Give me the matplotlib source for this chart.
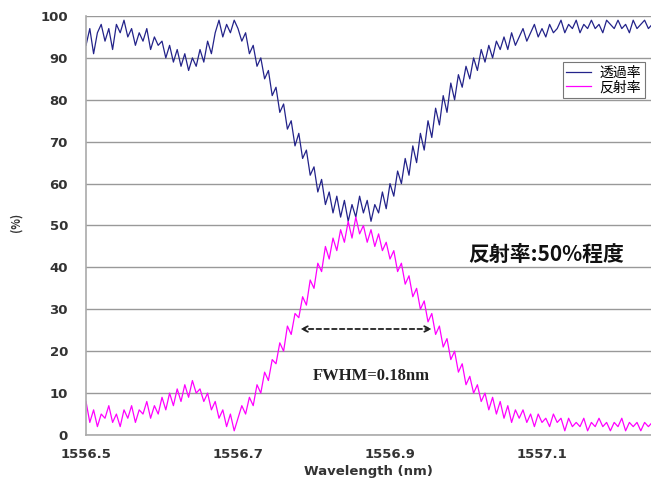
import numpy as np
import matplotlib
matplotlib.use("Agg")
import matplotlib.pyplot as plt

# ---- data ----
wl_start = 1556.5
wl_step = 0.005
transmission = [
    93, 97, 91, 96, 98, 94, 97, 92, 98, 96,
    99, 95, 97, 93, 96, 94, 97, 92, 95, 93,
    94, 90, 93, 89, 92, 88, 91, 87, 90, 88,
    92, 89, 94, 91, 96, 99, 95, 98, 96, 99,
    97, 94, 96, 91, 93, 88, 90, 85, 87, 81,
    83, 77, 79, 73, 75, 69, 72, 66, 68, 62,
    64, 58, 61, 55, 58, 53, 57, 52, 56, 51,
    55, 52, 57, 53, 56, 51, 55, 53, 58, 54,
    60, 57, 63, 60, 66, 62, 69, 65, 72, 68,
    75, 71, 78, 74, 81, 77, 84, 80, 86, 83,
    88, 85, 90, 87, 92, 89, 93, 90, 94, 92,
    95, 92, 96, 93, 95, 97, 94, 96, 98, 95,
    97, 95, 98, 96, 97, 99, 96, 98, 97, 99,
    96, 98, 97, 99, 97, 98, 96, 99, 98, 97,
    99, 97, 98, 96, 99, 97, 98, 99, 97, 98,
]
reflection = [
    8, 3, 6, 2, 5, 4, 7, 3, 5, 2,
    6, 4, 7, 3, 6, 5, 8, 4, 7, 5,
    9, 6, 10, 7, 11, 8, 12, 9, 13, 10,
    11, 8, 10, 6, 8, 4, 6, 2, 5, 1,
    4, 7, 5, 9, 7, 12, 10, 15, 13, 18,
    17, 22, 20, 26, 24, 29, 28, 33, 31, 37,
    35, 41, 39, 45, 42, 47, 44, 49, 46, 51,
    47, 52, 48, 50, 46, 49, 45, 48, 44, 46,
    42, 44, 39, 41, 36, 38, 33, 35, 30, 32,
    27, 29, 24, 26, 21, 23, 18, 20, 15, 17,
    12, 14, 10, 12, 8, 10, 6, 9, 5, 8,
    4, 7, 3, 6, 4, 6, 3, 5, 2, 5,
    3, 4, 2, 5, 3, 4, 1, 4, 2, 3,
    2, 4, 1, 3, 2, 4, 2, 3, 1, 3,
    2, 4, 1, 3, 2, 3, 1, 3, 2, 3,
]
wavelength = wl_start + wl_step * np.arange(len(transmission))
series_labels = ["透過率", "反射率"]
x_ticks = [1556.5, 1556.7, 1556.9, 1557.1]
x_tick_labels = ["1556.5", "1556.7", "1556.9", "1557.1"]
y_ticks = list(range(0, 101, 10))
fwhm_left, fwhm_right, fwhm_level = 1556.782, 1556.955, 25.3
annot_main = "反射率:50%程度"
annot_fwhm = "FWHM=0.18nm"

plt.rcParams['font.family'] = ['Noto Sans CJK JP', 'DejaVu Sans']

fig = plt.figure(figsize=(6.51, 4.79), dpi=100)
ax = fig.add_axes([86/651, 1 - 435/479, 1 - 86/651, (435 - 16)/479])

ax.plot(wavelength, transmission, color='#23238a', lw=0.9, label=series_labels[0])
ax.plot(wavelength, reflection, color='#ff00ff', lw=0.9, label=series_labels[1])

ax.set_xlim(1556.5, 1556.5 + 565/760)
ax.set_ylim(0, 100)
ax.set_yticks(y_ticks)
ax.set_xticks(x_ticks)
ax.set_xticklabels(x_tick_labels)
for lab in ax.get_xticklabels() + ax.get_yticklabels():
    lab.set_family('DejaVu Sans')
    lab.set_fontweight('bold')
    lab.set_fontsize(9.5)
    lab.set_color('#333333')
ax.tick_params(axis='y', length=0, pad=13)
ax.tick_params(axis='x', length=0, pad=9)
ax.grid(axis='y', color='#999999', lw=1.0)
ax.set_axisbelow(True)
for s in ['top', 'right']:
    ax.spines[s].set_visible(False)
for s in ['left', 'bottom']:
    ax.spines[s].set_color('#aaaaaa')
    ax.spines[s].set_linewidth(1.2)

ax.set_xlabel("Wavelength (nm)", family='DejaVu Sans', fontweight='bold',
              fontsize=9.5, color='#333333', va='center')
ax.xaxis.set_label_coords(0.5, -36/419)
fig.text(16/651, 1 - 222/479, "(%)", rotation=90, ha='center', va='center',
         fontsize=8, fontweight='bold', color='#333333')

ax.text(1556.5 + (468 - 86)/760, 43, annot_main, fontsize=15, va='center',
        ha='left', color='#111111', fontweight='bold',
        family=['Noto Sans CJK JP', 'DejaVu Sans'])
ax.text(1556.5 + (313 - 86)/760, 14, annot_fwhm, fontsize=12, va='center',
        ha='left', family='Liberation Serif', fontweight='bold', color='#222222')
ax.annotate("", xy=(fwhm_left, fwhm_level), xytext=(fwhm_right, fwhm_level),
            arrowprops=dict(arrowstyle='<->', linestyle=(0, (2.5, 1.8)), color='#222222',
                            lw=1.3, shrinkA=0, shrinkB=0))

leg = fig.legend(loc='upper left', bbox_to_anchor=(563/651, 1 - 62/479),
                 fontsize=10, frameon=True, fancybox=False, handlelength=1.8,
                 borderpad=0.25, labelspacing=0.05, handletextpad=0.6,
                 borderaxespad=0)
leg.get_frame().set_edgecolor('#555555')
leg.get_frame().set_linewidth(0.8)

fig.savefig("out.png", dpi=100)
